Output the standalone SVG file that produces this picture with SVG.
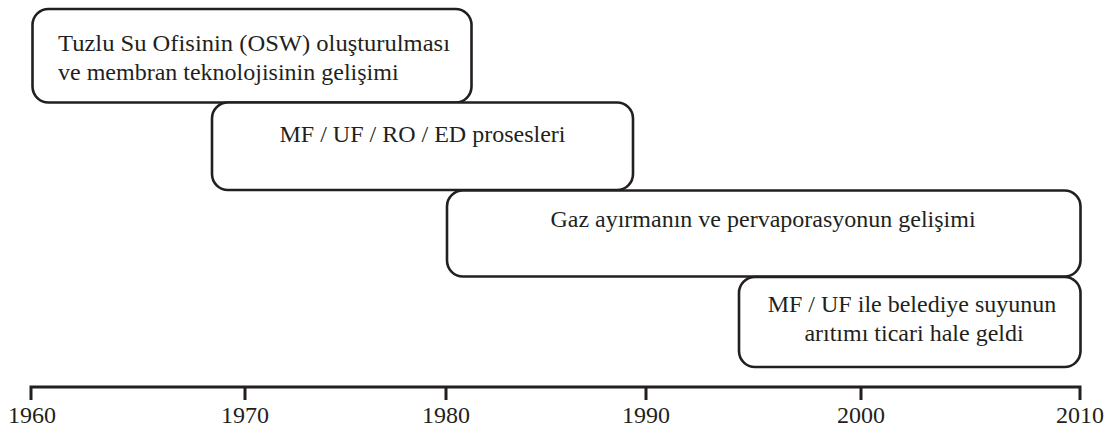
<svg xmlns="http://www.w3.org/2000/svg" width="1112" height="433" viewBox="0 0 1112 433">
  <style>
    .box { fill: #ffffff; stroke: #231f20; stroke-width: 2.6; }
    .lbl { font-family: "Liberation Serif", "Times New Roman", serif; font-size: 24px; fill: #231f20; }
    .mid { text-anchor: middle; }
    .axis { stroke: #231f20; stroke-width: 3; fill: none; }
  </style>
  <rect width="1112" height="433" fill="#ffffff"/>

  <!-- time axis with decade ticks -->
  <g id="timeline">
    <path class="axis" d="M31,400 V387 H1080 V400"/>
    <path class="axis" d="M245,387 V400 M446,387 V400 M646,387 V400 M861,387 V400"/>
    <text class="lbl mid" x="32" y="423">1960</text>
    <text class="lbl mid" x="245" y="423">1970</text>
    <text class="lbl mid" x="446" y="423">1980</text>
    <text class="lbl mid" x="646" y="423">1990</text>
    <text class="lbl mid" x="861" y="423">2000</text>
    <text class="lbl mid" x="1080" y="423">2010</text>
  </g>

  <g id="osw">
    <rect class="box" x="32.5" y="9" width="439" height="93.5" rx="16"/>
    <text class="lbl" x="58" y="51" textLength="392" lengthAdjust="spacingAndGlyphs">Tuzlu Su Ofisinin (OSW) oluşturulması</text>
    <text class="lbl" x="58" y="80">ve membran teknolojisinin gelişimi</text>
  </g>

  <g id="processes">
    <rect class="box" x="212" y="102.5" width="421" height="87.5" rx="16"/>
    <text class="lbl mid" x="422.5" y="142">MF / UF / RO / ED prosesleri</text>
  </g>

  <g id="gas-separation">
    <rect class="box" x="447" y="190.5" width="633.5" height="86" rx="16"/>
    <text class="lbl mid" x="763" y="227">Gaz ayırmanın ve pervaporasyonun gelişimi</text>
  </g>

  <g id="municipal-water">
    <rect class="box" x="739" y="277" width="341.5" height="90" rx="16"/>
    <text class="lbl mid" x="912" y="312">MF / UF ile belediye suyunun</text>
    <text class="lbl mid" x="914" y="341">arıtımı ticari hale geldi</text>
  </g>
</svg>
